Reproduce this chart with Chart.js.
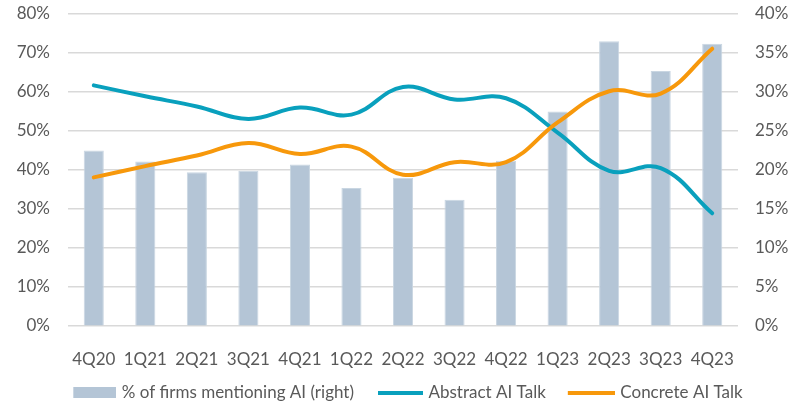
<!DOCTYPE html>
<html>
<head>
<meta charset="utf-8">
<script src="https://cdn.jsdelivr.net/npm/chart.js@4/dist/chart.umd.min.js"></script>
<style>
  html, body { margin: 0; padding: 0; background: #ffffff; }
  #wrap { width: 800px; height: 411px; }
</style>
</head>
<body>
<div id="wrap"><canvas id="c" width="800" height="411"></canvas></div>
<script>
const categories = ["4Q20","1Q21","2Q21","3Q21","4Q21","1Q22","2Q22","3Q22","4Q22","1Q23","2Q23","3Q23","4Q23"];
const firmsMentioningAI = [22.5, 21.1, 19.7, 19.9, 20.7, 17.7, 19.0, 16.2, 21.2, 27.5, 36.5, 32.7, 36.2];
const abstractAITalk = [61.7, 58.9, 56.3, 53.1, 56.0, 54.2, 61.3, 58.1, 58.4, 49.6, 39.8, 40.5, 28.9];
const concreteAITalk = [38.1, 41.0, 43.7, 46.9, 44.1, 46.0, 38.8, 42.0, 42.0, 52.2, 60.2, 59.6, 71.1];
const leftTicks = [0, 10, 20, 30, 40, 50, 60, 70, 80];
const rightTicks = [0, 5, 10, 15, 20, 25, 30, 35, 40];

const BAR_COLOR = '#B4C5D6';
const BLUE = '#09A0BD';
const ORANGE = '#F7980B';
const TEXT = '#595959';
const FONT = 'Lato';
const FSIZE = 17;

const ICON_W = 62;
function swatch(w, h, color) {
  const c = document.createElement('canvas');
  c.width = ICON_W; c.height = h;
  const g = c.getContext('2d');
  g.fillStyle = color;
  g.fillRect(ICON_W - w, 0, w, h);
  return c;
}
const legendIcons = [swatch(43, 11, BAR_COLOR), swatch(45, 4, BLUE), swatch(47, 4, ORANGE)];

function noVPad(scale) { scale.paddingTop = 0; scale.paddingBottom = 0; }

new Chart(document.getElementById('c'), {
  data: {
    labels: categories,
    datasets: [
      {
        type: 'bar',
        label: '% of firms mentioning AI (right)',
        data: firmsMentioningAI,
        yAxisID: 'yRight',
        backgroundColor: BAR_COLOR,
        borderColor: '#C9D6E2',
        borderWidth: 1,
        barPercentage: 0.39,
        categoryPercentage: 1.0,
        order: 2
      },
      {
        type: 'line',
        label: 'Abstract AI Talk',
        data: abstractAITalk,
        yAxisID: 'yLeft',
        borderColor: BLUE,
        borderWidth: 4,
        borderCapStyle: 'round',
        pointRadius: 0,
        tension: 0.4,
        fill: false,
        order: 1
      },
      {
        type: 'line',
        label: 'Concrete AI Talk',
        data: concreteAITalk,
        yAxisID: 'yLeft',
        borderColor: ORANGE,
        borderWidth: 4,
        borderCapStyle: 'round',
        pointRadius: 0,
        tension: 0.4,
        fill: false,
        order: 0
      }
    ]
  },
  options: {
    responsive: false,
    animation: false,
    devicePixelRatio: 1,
    layout: { padding: { top: 14, bottom: 0, left: 0, right: 0 } },
    plugins: {
      tooltip: { enabled: false },
      legend: {
        position: 'bottom',
        labels: {
          usePointStyle: true,
          pointStyleWidth: ICON_W - 6,
          boxHeight: 11,
          padding: 10,
          color: TEXT,
          font: { family: FONT, size: FSIZE },
          generateLabels(chart) {
            return chart.data.datasets.map((ds, i) => ({
              text: ds.label,
              pointStyle: legendIcons[i],
              fillStyle: 'transparent',
              strokeStyle: 'transparent',
              lineWidth: 0,
              fontColor: TEXT,
              hidden: false,
              datasetIndex: i
            }));
          }
        }
      }
    },
    scales: {
      x: {
        grid: { display: false },
        border: { display: false },
        afterFit(scale) { scale.height = 48; },
        ticks: { color: TEXT, font: { family: FONT, size: FSIZE }, padding: 15, maxRotation: 0 }
      },
      yLeft: {
        position: 'left',
        min: 0, max: 80,
        afterBuildTicks(scale) { scale.ticks = leftTicks.map(v => ({ value: v })); },
        afterFit(scale) { scale.width = 68; noVPad(scale); },
        grid: { color: '#D9D9D9', lineWidth: 1.5, drawTicks: false },
        border: { display: false },
        ticks: { color: TEXT, font: { family: FONT, size: FSIZE }, padding: 18, callback: v => v + '%' }
      },
      yRight: {
        position: 'right',
        min: 0, max: 40,
        afterBuildTicks(scale) { scale.ticks = rightTicks.map(v => ({ value: v })); },
        afterFit(scale) { scale.width = 62; noVPad(scale); },
        grid: { drawOnChartArea: false, drawTicks: false },
        border: { display: false },
        ticks: { color: TEXT, font: { family: FONT, size: FSIZE }, padding: 17, callback: v => v + '%' }
      }
    }
  }
});
</script>
</body>
</html>
